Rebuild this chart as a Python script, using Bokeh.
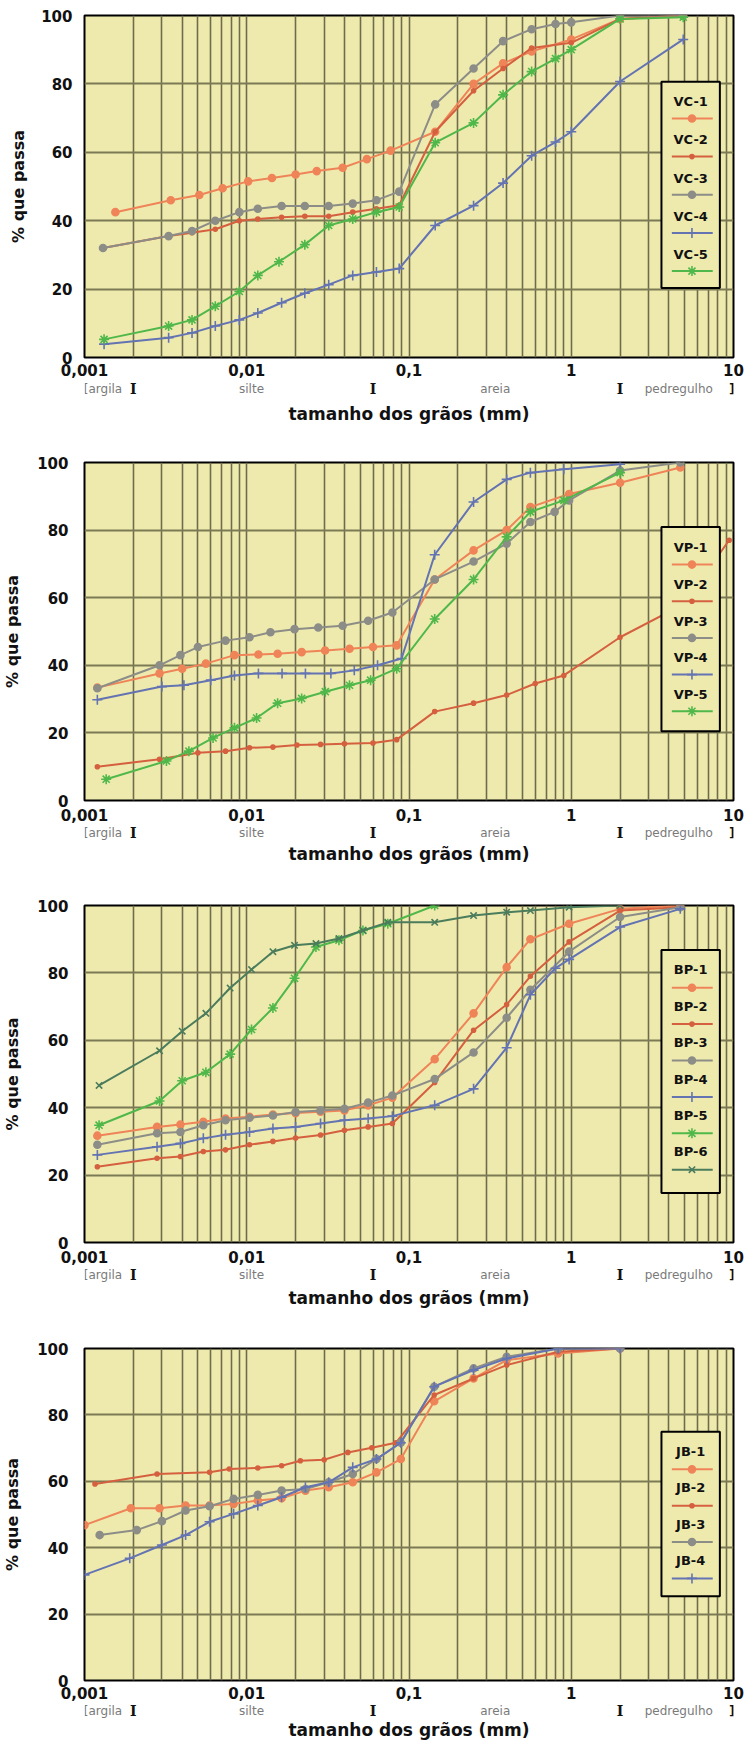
from bokeh.plotting import figure
from bokeh.layouts import column
from bokeh.models import Range1d, FixedTicker, CustomJSTickFormatter
from bokeh.core.properties import value
from bokeh.embed import file_html
from bokeh.resources import INLINE

# ---------------- data (grain size mm, % passing) ----------------
# Panel 1 : VC
vc1_x = [0.00155, 0.0034, 0.0051, 0.0071, 0.0102, 0.0143, 0.020, 0.027, 0.039, 0.055, 0.077, 0.145, 0.25, 0.38, 0.57, 1.0, 2.0, 4.9]
vc1_y = [42.5, 46, 47.5, 49.5, 51.5, 52.5, 53.5, 54.5, 55.5, 58, 60.5, 66, 80, 86, 89.5, 93, 99, 100]
vc2_x = [0.0013, 0.0033, 0.0046, 0.0064, 0.009, 0.0117, 0.0164, 0.0228, 0.032, 0.045, 0.063, 0.087, 0.145, 0.25, 0.38, 0.57, 1.0, 2.0, 4.9]
vc2_y = [32, 35.5, 36.5, 37.5, 40, 40.5, 41, 41.3, 41.3, 42.5, 43.5, 44.5, 66, 78, 84.5, 90.5, 92, 99, 100]
vc3_x = [0.0013, 0.0033, 0.0046, 0.0064, 0.009, 0.0117, 0.0164, 0.0228, 0.032, 0.045, 0.063, 0.087, 0.145, 0.25, 0.38, 0.57, 0.8, 1.0, 2.0, 4.9]
vc3_y = [32, 35.5, 37, 40, 42.5, 43.5, 44.3, 44.3, 44.3, 45, 46, 48.5, 74, 84.5, 92.5, 96, 97.5, 98, 100, 100]
vc4_x = [0.00132, 0.0033, 0.0046, 0.0064, 0.009, 0.0117, 0.0164, 0.0228, 0.032, 0.045, 0.063, 0.087, 0.145, 0.25, 0.38, 0.57, 0.8, 1.0, 2.0, 4.9]
vc4_y = [3.9, 5.8, 7.2, 9.2, 11, 13, 16, 18.8, 21.3, 24, 25, 26, 38.6, 44.4, 51, 59, 63, 66, 80.7, 93]
vc5_x = [0.00132, 0.0033, 0.0046, 0.0064, 0.009, 0.0117, 0.0158, 0.0228, 0.032, 0.045, 0.063, 0.087, 0.145, 0.25, 0.38, 0.57, 0.8, 1.0, 2.0, 4.9]
vc5_y = [5.3, 9.2, 11, 15, 19.3, 24, 28, 33, 38.6, 40.5, 42.5, 44, 62.8, 68.6, 76.8, 83.6, 87.4, 90, 99, 99.5]

# Panel 2 : VP
vp1_x = [0.0012, 0.0029, 0.004, 0.0056, 0.0084, 0.0118, 0.0155, 0.0218, 0.0304, 0.043, 0.06, 0.084, 0.144, 0.25, 0.4, 0.56, 0.97, 2.0, 4.7]
vp1_y = [33.4, 37.6, 39, 40.5, 43, 43.2, 43.4, 43.9, 44.4, 44.9, 45.4, 45.9, 65.4, 74, 80, 86.8, 90.7, 94, 98.5]
vp2_x = [0.0012, 0.0029, 0.005, 0.0074, 0.0104, 0.0145, 0.0204, 0.0285, 0.04, 0.06, 0.084, 0.144, 0.25, 0.4, 0.6, 0.9, 2.0, 4.9, 9.4]
vp2_y = [10, 12.2, 14.1, 14.6, 15.6, 15.8, 16.4, 16.6, 16.8, 17, 18, 26.3, 28.8, 31.2, 34.6, 37, 48.3, 58, 77]
vp3_x = [0.0012, 0.0029, 0.0039, 0.005, 0.0074, 0.0104, 0.014, 0.0197, 0.0276, 0.039, 0.056, 0.079, 0.144, 0.25, 0.4, 0.56, 0.79, 0.97, 2.0, 4.7]
vp3_y = [33.2, 40, 43, 45.4, 47.3, 48.3, 49.8, 50.7, 51.2, 51.7, 53.2, 55.6, 65.4, 70.7, 76, 82.4, 85.4, 88.8, 97.6, 100]
vp4_x = [0.0012, 0.003, 0.0041, 0.006, 0.0084, 0.0118, 0.0165, 0.023, 0.033, 0.046, 0.064, 0.09, 0.144, 0.25, 0.4, 0.56, 0.9, 2.0]
vp4_y = [29.8, 33.7, 34.1, 35.6, 37, 37.6, 37.6, 37.6, 37.6, 38.5, 40, 42, 72.7, 88.3, 95, 97, 98, 99.5]
vp5_x = [0.00136, 0.0032, 0.0044, 0.0062, 0.0084, 0.0115, 0.0155, 0.0218, 0.0305, 0.043, 0.058, 0.084, 0.144, 0.25, 0.4, 0.56, 0.9, 2.0]
vp5_y = [6.3, 11.7, 14.6, 18.5, 21.5, 24.4, 28.8, 30.2, 32.2, 34.1, 35.6, 39, 53.7, 65.4, 78, 85.4, 88.8, 97]

# Panel 3 : BP
bp_x = [0.0012, 0.0028, 0.0039, 0.0054, 0.0074, 0.0104, 0.0145, 0.02, 0.0285, 0.04, 0.056, 0.079, 0.144, 0.25, 0.4, 0.56, 0.97, 2.0, 4.7]
bp1_y = [31.7, 34.3, 35, 35.8, 36.8, 37.3, 38, 38.4, 38.8, 39.2, 40.7, 43, 54.4, 68, 81.7, 90, 94.6, 99, 100]
bp2_y = [22.5, 25, 25.5, 27, 27.5, 29, 30, 31, 31.9, 33.3, 34.3, 35.3, 47.5, 63, 70.6, 79, 89.2, 98.5, 99.5]
bp3_y = [29, 32.4, 32.8, 34.8, 36.3, 37, 37.7, 38.7, 39.2, 39.7, 41.5, 43.6, 48.5, 56.4, 66.7, 75, 86.3, 96.6, 99.5]
bp4_x = [0.0012, 0.0028, 0.0039, 0.0054, 0.0074, 0.0104, 0.0145, 0.02, 0.0285, 0.04, 0.056, 0.079, 0.144, 0.25, 0.4, 0.56, 0.8, 0.97, 2.0, 4.7]
bp4_y = [26, 28.4, 29.4, 30.9, 32, 32.8, 33.8, 34.3, 35.3, 36.3, 36.8, 37.5, 40.7, 45.6, 57.8, 73.5, 81.4, 84, 93.6, 99]
bp5_x = [0.00123, 0.0029, 0.004, 0.0056, 0.0079, 0.0107, 0.0145, 0.0197, 0.0267, 0.037, 0.052, 0.074, 0.144]
bp5_y = [34.8, 42, 48, 50.5, 55.9, 63.2, 69.6, 78.4, 87.7, 89.7, 92.6, 94.6, 100]
bp6_x = [0.00123, 0.0029, 0.004, 0.0056, 0.0079, 0.0107, 0.0145, 0.0197, 0.0267, 0.037, 0.052, 0.074, 0.144, 0.25, 0.4, 0.56, 0.97, 2.0]
bp6_y = [46.6, 56.9, 62.7, 68, 75.5, 81, 86.3, 88.2, 88.7, 90.2, 92.6, 95, 95, 97, 98, 98.5, 99.5, 100]

# Panel 4 : JB
jb1_x = [0.001, 0.00193, 0.0029, 0.0042, 0.0059, 0.0083, 0.0117, 0.0164, 0.023, 0.032, 0.045, 0.063, 0.089, 0.143, 0.25, 0.4, 0.83, 2.0]
jb1_y = [46.8, 51.9, 51.9, 52.7, 52.7, 53.2, 54.2, 54.9, 57.2, 58.2, 59.7, 62.7, 66.7, 84.1, 91, 96.5, 98.5, 100]
jb2_x = [0.00116, 0.0028, 0.0059, 0.0078, 0.0117, 0.0164, 0.0214, 0.030, 0.042, 0.059, 0.083, 0.143, 0.25, 0.4, 0.83, 2.0]
jb2_y = [59.2, 62.2, 62.7, 63.7, 64, 64.7, 66.2, 66.5, 68.7, 70.1, 71.6, 86, 91, 95, 99, 100]
jb3_x = [0.00124, 0.0021, 0.003, 0.0042, 0.0059, 0.0083, 0.0117, 0.0164, 0.023, 0.032, 0.045, 0.063, 0.089, 0.143, 0.25, 0.4, 0.83, 2.0]
jb3_y = [43.8, 45.3, 48, 51.2, 52.5, 54.7, 55.9, 57.2, 57.7, 59.7, 62.2, 66.7, 71.6, 88.5, 94, 97.5, 100, 100]
jb4_x = [0.001, 0.0019, 0.003, 0.0042, 0.0059, 0.0083, 0.0117, 0.0164, 0.023, 0.032, 0.045, 0.063, 0.089, 0.143, 0.25, 0.4, 0.83, 2.0]
jb4_y = [31.8, 36.8, 40.8, 43.8, 47.8, 50.2, 52.7, 55.2, 58.2, 59.7, 64.2, 66.7, 71.6, 88.5, 93.5, 97, 100, 100]

vc_names = ["VC-1", "VC-2", "VC-3", "VC-4", "VC-5"]
vp_names = ["VP-1", "VP-2", "VP-3", "VP-4", "VP-5"]
bp_names = ["BP-1", "BP-2", "BP-3", "BP-4", "BP-5", "BP-6"]
jb_names = ["JB-1", "JB-2", "JB-3", "JB-4"]

x_tick_values = [0.001, 0.01, 0.1, 1, 10]
y_tick_values = [0, 20, 40, 60, 80, 100]
y_grid_values = [20, 40, 60, 80]
x_label = "tamanho dos grãos (mm)"
y_label = "% que passa"
# soil-fraction annotation row (Portuguese classification)
fraction_names = ["[argila", "silte", "areia", "pedregulho"]
fraction_name_pos = [0.0013, 0.0107, 0.34, 4.6]
fraction_limits = [0.002, 0.06, 2.0]
fraction_end_pos = 9.8

# ---------------- styling ----------------
BG = "#eeeaae"
GRID = "#6e6c4c"
COLORS = ["#ef8458", "#d5603f", "#8d8d88", "#6473b2", "#50b84a", "#4b7c5c"]
MARKERS = ["circle", "circle", "circle", "cross", "asterisk", "x"]
SIZES = [7, 4, 7, 10, 10, 9]
FONT = "DejaVu Sans"

grid_ticks = [m * 10.0 ** e for e in range(-3, 1) for m in range(1, 10)] + [10.0]


def fx_to_x(fx):
    return 10 ** (-3 + 4 * fx)


def make_panel(series, names, borders, frame_h, tick_standoff, strip, leg):
    left, right = borders
    main_h = 15 + frame_h + tick_standoff + 18
    xr = Range1d(0.001, 10)
    p = figure(width=749, height=main_h, x_axis_type="log",
               x_range=xr, y_range=Range1d(0, 100),
               output_backend="svg", toolbar_location=None,
               min_border_left=left, min_border_right=right,
               min_border_top=15, min_border_bottom=tick_standoff + 18,
               background_fill_color=BG, border_fill_color="white")
    p.outline_line_color = "black"
    p.outline_line_width = 2

    # grids
    p.xgrid.ticker = FixedTicker(ticks=grid_ticks)
    p.xgrid.grid_line_color = GRID
    p.xgrid.grid_line_width = 1.6
    p.ygrid.ticker = FixedTicker(ticks=y_grid_values)
    p.ygrid.grid_line_color = "#7c7a55"
    p.ygrid.grid_line_width = 2

    # axes
    p.xaxis.ticker = FixedTicker(ticks=x_tick_values)
    p.xaxis.formatter = CustomJSTickFormatter(code="return tick.toString().replace('.', ',')")
    p.yaxis.ticker = FixedTicker(ticks=y_tick_values)
    for ax in (p.xaxis, p.yaxis):
        ax.major_tick_line_color = None
        ax.minor_tick_line_color = None
        ax.axis_line_color = None
        ax.major_label_text_font = FONT
        ax.major_label_text_font_style = "bold"
        ax.major_label_text_font_size = "15px"
        ax.major_label_text_color = "#111111"
    p.xaxis.major_label_standoff = tick_standoff
    p.yaxis.major_label_standoff = 6 if left < 80 else 10
    p.yaxis.axis_label = y_label
    p.yaxis.axis_label_text_font = FONT
    p.yaxis.axis_label_text_color = "#111111"
    p.yaxis.axis_label_text_font_style = "bold"
    p.yaxis.axis_label_text_font_size = "16px"
    p.yaxis.axis_label_standoff = 10 if left < 80 else 12

    # series
    for i, (xs, ys) in enumerate(series):
        c = COLORS[i]
        p.line(xs, ys, line_color=c, line_width=2)
        p.scatter(xs, ys, marker=MARKERS[i], size=SIZES[i], line_color=c,
                  fill_color=c, line_width=1.6)

    # legend box (label above line sample)
    top, bottom, lab0, line0, step = leg
    p.quad(left=[fx_to_x(0.889)], right=[fx_to_x(0.979)], top=[100 * top], bottom=[100 * bottom],
           fill_color=BG, line_color="black", line_width=2)
    for i, name in enumerate(names):
        c = COLORS[i]
        ly = 100 * (lab0 - i * step)
        sy = 100 * (line0 - i * step)
        p.text(x=[fx_to_x(0.934)], y=[ly], text=[name], text_align="center",
               text_baseline="middle", text_font=value(FONT), text_font_style="bold",
               text_font_size="13px", text_color="#111111")
        p.line([fx_to_x(0.905), fx_to_x(0.968)], [sy, sy], line_color=c, line_width=2)
        p.scatter([fx_to_x(0.936)], [sy], marker=MARKERS[i], size=SIZES[i], line_color=c,
                  fill_color=c, line_width=1.6)

    # strip below the axis: soil fraction row + axis title
    strip_h, row_off, label_off = strip
    s = figure(width=749, height=strip_h, x_axis_type="log", x_range=xr,
               y_range=Range1d(strip_h, 0), output_backend="svg", toolbar_location=None,
               x_axis_location=None, y_axis_location=None,
               min_border_left=left, min_border_right=right,
               min_border_top=0, min_border_bottom=0,
               background_fill_color="white", border_fill_color="white")
    s.outline_line_color = None
    s.xgrid.visible = False
    s.ygrid.visible = False
    s.text(x=fraction_name_pos, y=[row_off] * len(fraction_name_pos), text=fraction_names,
           text_align="center", text_baseline="middle", text_font=value(FONT),
           text_font_size="12px", text_color="#7a7a7a")
    s.text(x=fraction_limits, y=[row_off] * len(fraction_limits), text=["I"] * len(fraction_limits),
           text_align="center", text_baseline="middle", text_font=value("DejaVu Serif"),
           text_font_style="bold", text_font_size="14px", text_color="#111111")
    s.text(x=[fraction_end_pos], y=[row_off], text=["]"], text_align="center",
           text_baseline="middle", text_font=value(FONT), text_font_style="bold",
           text_font_size="13px", text_color="#111111")
    s.text(x=[fx_to_x(0.5)], y=[label_off], text=[x_label], text_align="center",
           text_baseline="middle", text_font=value(FONT), text_font_style="bold",
           text_font_size="17px", text_color="#111111")
    return p, s


p1, s1 = make_panel([(vc1_x, vc1_y), (vc2_x, vc2_y), (vc3_x, vc3_y), (vc4_x, vc4_y), (vc5_x, vc5_y)],
                    vc_names, (78, 15), 345, 0, (69, 10, 35),
                    (0.806, 0.203, 0.748, 0.699, 0.1116))
p2, s2 = make_panel([(vp1_x, vp1_y), (vp2_x, vp2_y), (vp3_x, vp3_y), (vp4_x, vp4_y), (vp5_x, vp5_y)],
                    vp_names, (84, 16), 341, 2, (67, 9, 30),
                    (0.809, 0.205, 0.748, 0.698, 0.1085))
p3, s3 = make_panel([(bp_x, bp1_y), (bp_x, bp2_y), (bp_x, bp3_y), (bp4_x, bp4_y), (bp5_x, bp5_y), (bp6_x, bp6_y)],
                    bp_names, (84, 16), 340, 2, (68, 9, 32),
                    (0.868, 0.147, 0.809, 0.756, 0.108))
p4, s4 = make_panel([(jb1_x, jb1_y), (jb2_x, jb2_y), (jb3_x, jb3_y), (jb4_x, jb4_y)],
                    jb_names, (84, 16), 335, 0, (48, 9, 28),
                    (0.749, 0.254, 0.690, 0.636, 0.1095))

layout = column(p1, s1, p2, s2, p3, s3, p4, s4, spacing=0)
open("out.html", "w").write(file_html(layout, INLINE))
